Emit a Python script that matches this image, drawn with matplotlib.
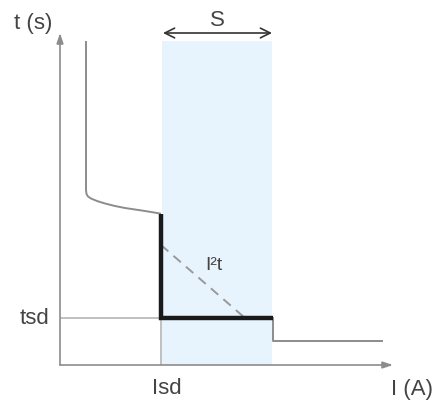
import matplotlib
matplotlib.use("Agg")
import matplotlib.pyplot as plt

plt.rcParams['font.family'] = ['Liberation Sans', 'DejaVu Sans']

# Schematic values (arbitrary units: x = current I, y = time t)
isd = 101
s_end = 212
tsd = 47
curve_x = [26, 26, 26.5, 28, 31, 37, 45, 55, 65, 75, 85, 100]
curve_y = [323, 175, 171, 168.5, 166.5, 164, 161.5, 159, 157, 155.5, 154, 151.5]
thick_x = [101, 101, 213]
thick_y = [151.5, 47, 47]
step_x = [213, 213, 322]
step_y = [47, 24, 24]
dash_x = [101, 185]
dash_y = [120, 47]
x_label = "I (A)"
y_label = "t (s)"
tick_x_label = "Isd"
tick_y_label = "tsd"

W, H = 435, 404
fig = plt.figure(figsize=(W / 100, H / 100), dpi=100)
ox, oy = 60, 365
ax = fig.add_axes([ox / W, (H - oy) / H, (393 - ox) / W, (oy - 33) / H])
ax.set_xlim(0, 333)
ax.set_ylim(0, 332)
ax.axis('off')

txt = '#444444'
gray = '#8c8c8c'
fs = 16

# shaded selectivity zone
ax.axvspan(isd + 1, s_end, ymin=0, ymax=(365 - 41) / 332, color='#e8f4fd', lw=0, zorder=0)

# axes with arrows
ax.annotate('', xy=(0, 332), xytext=(0, 0),
            arrowprops=dict(arrowstyle='-|>,head_length=0.6,head_width=0.2', color=gray, lw=1.2, shrinkA=0, shrinkB=0))
ax.annotate('', xy=(333, 0), xytext=(0, 0),
            arrowprops=dict(arrowstyle='-|>,head_length=0.6,head_width=0.2', color=gray, lw=1.2, shrinkA=0, shrinkB=0))

# reference lines
ax.plot([0, isd], [tsd, tsd], color='#b5b5b5', lw=1.2, zorder=1)
ax.plot([isd, isd], [0, tsd], color='#b5b5b5', lw=1.2, zorder=1)

# curves
ax.plot(curve_x, curve_y, color=gray, lw=1.4, zorder=2)
ax.plot(step_x, step_y, color=gray, lw=1.4, zorder=2)
ax.plot(dash_x, dash_y, color='#999999', lw=1.4, ls=(0, (5, 3.5)), zorder=2)
ax.plot(thick_x, thick_y, color='#1a1a1a', lw=3.2, zorder=3, solid_joinstyle='miter', solid_capstyle='butt')

# S arrow
ax.annotate('', xy=(s_end, 332), xytext=(isd + 2, 332),
            arrowprops=dict(arrowstyle='<->,head_length=0.7,head_width=0.35', color='#333333', lw=1.2, shrinkA=0, shrinkB=0),
            annotation_clip=False)
ax.text((isd + 2 + s_end) / 2, 345, 'S', ha='center', va='center', fontsize=fs, color=txt, clip_on=False)

# labels
ax.text(154, 99, 'I²t', ha='center', va='center', fontsize=14, color=txt)
ax.text(-8, 342, y_label, ha='right', va='center', fontsize=fs, color=txt, clip_on=False)
ax.text(-11, tsd, tick_y_label, ha='right', va='center', fontsize=fs, color=txt, clip_on=False)
ax.text(107, -24, tick_x_label, ha='center', va='center', fontsize=fs, color=txt, clip_on=False)
ax.text(373, -25, x_label, ha='right', va='center', fontsize=fs, color=txt, clip_on=False)

fig.savefig('out.png', dpi=100)
